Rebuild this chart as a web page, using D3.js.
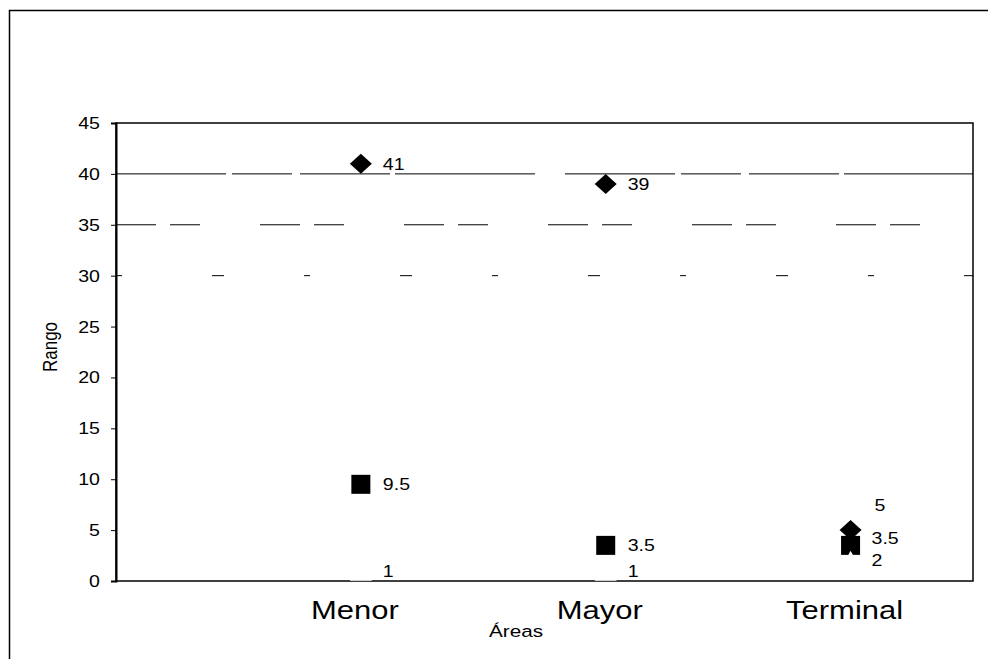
<!DOCTYPE html>
<html>
<head>
<meta charset="utf-8">
<script src="https://cdn.jsdelivr.net/npm/d3@7"></script>
<style>
  body { margin: 0; background: #fff; }
  text { font-family: Arial, "Liberation Sans", sans-serif; fill: #000; }
</style>
</head>
<body>
<div id="chart"></div>
<script>
// dimensions
const width = 988;
const height = 659;

// données
const areas = ["Menor", "Mayor", "Terminal"];
const areaPos = [1, 2, 3];
const maximo = [41, 39, 5];
const mediana = [9.5, 3.5, 3.5];
const minimo = [1, 1, 2];
const yTicks = [0, 5, 10, 15, 20, 25, 30, 35, 40, 45];
const gridValues = [30, 35, 40];

const svg = d3.select("#chart").append("svg")
    .attr("width", width)
    .attr("height", height);

// cadre extérieur (seuls les bords haut et gauche sont visibles)
svg.append("path")
    .attr("d", `M9.5,${height}V10.5H${width}`)
    .attr("fill", "none")
    .attr("stroke", "#000")
    .attr("stroke-width", 1.5);

const x = d3.scaleLinear().domain([0, 3.5]).range([116, 973]);
const y = d3.scaleLinear().domain([0, 45]).range([581, 123]);

// lignes de grille (abîmées par le scan)
const gridDash = { 40: "110,6,60,8,90,5,140,30", 35: "40,14,30,60", 30: "6,90,12,80" };
svg.append("g")
    .selectAll("line")
    .data(gridValues)
    .join("line")
    .attr("x1", x(0)).attr("x2", x(3.5))
    .attr("y1", d => y(d)).attr("y2", d => y(d))
    .attr("stroke", "#000")
    .attr("stroke-width", 1)
    .attr("stroke-dasharray", d => gridDash[d]);

// cadre de la zone de tracé
svg.append("rect")
    .attr("x", x(0)).attr("y", y(45))
    .attr("width", x(3.5) - x(0)).attr("height", y(0) - y(45))
    .attr("fill", "none")
    .attr("stroke", "#000")
    .attr("stroke-width", 1.5);

// axe Y
const yAxis = svg.append("g")
    .attr("transform", `translate(${x(0)},0)`)
    .call(d3.axisLeft(y).tickValues(yTicks).tickSize(5).tickPadding(11));
yAxis.select(".domain").attr("stroke-width", 2);
yAxis.selectAll(".tick text")
    .style("font-size", "17px")
    .attr("transform", "scale(1.15,1)")
    .attr("x", -14);

// titres
svg.append("text")
    .attr("transform", `translate(57,347) rotate(-90) scale(1,1.15)`)
    .attr("text-anchor", "middle")
    .style("font-size", "17px")
    .text("Rango");

svg.append("text")
    .attr("transform", `translate(516,637) scale(1.22,1)`)
    .attr("text-anchor", "middle")
    .style("font-size", "17px")
    .text("Áreas");

// étiquettes des catégories
svg.append("g")
    .selectAll("text")
    .data(areas)
    .join("text")
    .attr("transform", (d, i) => `translate(${x(areaPos[i]) - 6},619) scale(1.24,1)`)
    .attr("text-anchor", "middle")
    .style("font-size", "25px")
    .text(d => d);

// marqueurs
const diamond = "M0,-10L11,0L0,10L-11,0Z";
svg.append("g")
    .selectAll("path")
    .data(maximo)
    .join("path")
    .attr("d", diamond)
    .attr("transform", (d, i) => `translate(${x(areaPos[i])},${y(d)})`)
    .attr("fill", "#000");

svg.append("g")
    .selectAll("rect")
    .data(mediana)
    .join("rect")
    .attr("x", (d, i) => x(areaPos[i]) - 9.5)
    .attr("y", d => y(d) - 9.5)
    .attr("width", 19).attr("height", 19)
    .attr("fill", "#000");

const tri = "M0,-10L11,10L-11,10Z";
svg.append("g")
    .selectAll("path")
    .data(minimo)
    .join("path")
    .attr("d", tri)
    .attr("transform", (d, i) => `translate(${x(areaPos[i])},${y(d)})`)
    .attr("fill", "#fff");

// étiquettes des valeurs
const nudge = {
    "max-2": [24, -25],
    "med-2": [21, -7],
    "min-2": [21, -1]
};
const labels = [];
maximo.forEach((v, i) => labels.push({ key: "max-" + i, i, v }));
mediana.forEach((v, i) => labels.push({ key: "med-" + i, i, v }));
minimo.forEach((v, i) => labels.push({ key: "min-" + i, i, v }));

svg.append("g")
    .selectAll("text")
    .data(labels)
    .join("text")
    .attr("transform", d => {
        const n = nudge[d.key] || [22, 0];
        return `translate(${x(areaPos[d.i]) + n[0]},${y(d.v) + n[1] + 6}) scale(1.15,1)`;
    })
    .style("font-size", "17px")
    .text(d => d.v);
</script>
</body>
</html>
